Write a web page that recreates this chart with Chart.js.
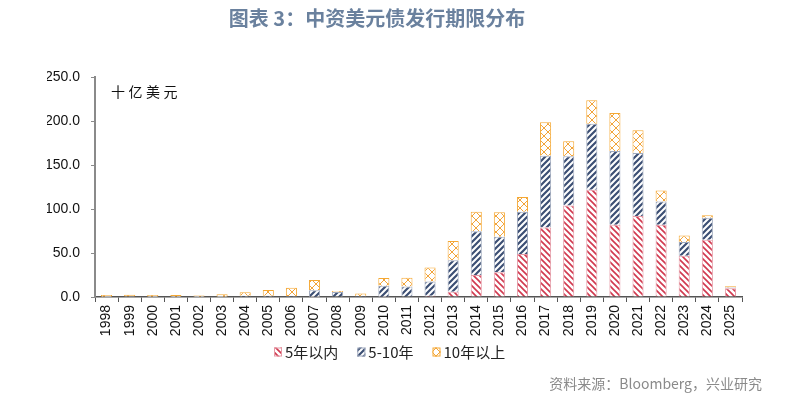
<!DOCTYPE html>
<html>
<head>
<meta charset="utf-8">
<script src="https://cdn.jsdelivr.net/npm/chart.js@4.4.1/dist/chart.umd.min.js"></script>
<style>
  body { margin: 0; background: #fff; }
  canvas { display: block; }
</style>
</head>
<body>
<canvas id="chart" width="802" height="399"></canvas>
<script>
/* ================= DATA ================= */
const years = [
  "1998", "1999", "2000", "2001", "2002", "2003", "2004", "2005", "2006", "2007",
  "2008", "2009", "2010", "2011", "2012", "2013", "2014", "2015", "2016", "2017",
  "2018", "2019", "2020", "2021", "2022", "2023", "2024", "2025"
];
const seriesNames = ["5年以内", "5-10年", "10年以上"];

const within5 = [
  0, 0, 0, 0, 0, 0, 0, 0, 0, 0.3,
  0, 0, 0.3, 0.5, 1.5, 6, 25, 28, 49, 79,
  104, 122, 82, 92, 82, 47, 65, 10
];
const from5to10 = [
  0.3, 0.5, 0.3, 0.2, 0.2, 0.3, 1.5, 1.5, 1, 7.5,
  5.7, 1, 12.5, 11.5, 16, 35.7, 49.6, 40.6, 48, 81.4,
  56, 75, 84, 71.6, 26.5, 15.6, 25, 0.7
];
const over10 = [
  2, 2, 2, 2, 1.6, 2.7, 4, 6.5, 9.5, 11.5,
  1, 3, 8.7, 10, 16, 22, 22.3, 27.6, 16.6, 38.3,
  17, 26.5, 43, 26, 12.5, 7.2, 3, 1.5
];
const yTicks = [0, 50, 100, 150, 200, 250];

const titleText = "图表 3：中资美元债发行期限分布";
const unitText = "十亿美元";
const sourceText = "资料来源：Bloomberg，兴业研究";

/* ================= PATTERNS ================= */
function makePattern(size, color, width, draw) {
  const c = document.createElement("canvas");
  c.width = size;
  c.height = size;
  const g = c.getContext("2d");
  g.fillStyle = "#fff";
  g.fillRect(0, 0, size, size);
  g.strokeStyle = color;
  g.lineWidth = width;
  g.beginPath();
  draw(g, size);
  g.stroke();
  return g.createPattern(c, "repeat");
}

const ctx = document.getElementById("chart").getContext("2d");

// "\" stripes
const redFill = makePattern(6, "#d1394f", 1.6, (g, s) => {
  g.moveTo(-1, -1); g.lineTo(s + 1, s + 1);
  g.moveTo(-1, s - 1); g.lineTo(1, s + 1);
  g.moveTo(s - 1, -1); g.lineTo(s + 1, 1);
});
// "/" stripes
const blueFill = makePattern(6, "#3c4f74", 2.2, (g, s) => {
  g.moveTo(-1, s + 1); g.lineTo(s + 1, -1);
  g.moveTo(-1, 1); g.lineTo(1, -1);
  g.moveTo(s - 1, s + 1); g.lineTo(s + 1, s - 1);
});
// cross hatch
const orangeFill = makePattern(8, "#f2a43a", 1, (g, s) => {
  g.moveTo(0, 0); g.lineTo(s, s);
  g.moveTo(0, s); g.lineTo(s, 0);
});

/* ================= TEXT + LEGEND PLUGIN ================= */
const textPlugin = {
  id: "texts",
  afterDraw(chart) {
    const c = chart.ctx;
    const area = chart.chartArea;
    c.save();

    // title
    c.fillStyle = "#6a819e";
    c.font = "bold 20px 'Noto Sans CJK SC'";
    c.textAlign = "center";
    c.textBaseline = "middle";
    c.fillText(titleText, 377, 18);

    // unit
    c.fillStyle = "#111";
    c.font = "14px 'Noto Sans CJK SC'";
    c.textAlign = "left";
    [...unitText].forEach((ch, i) => {
      c.fillText(ch, area.left + 16 + i * 17.5, 92);
    });

    // legend
    c.font = "15px 'Noto Sans CJK SC'";
    let x = 274;
    chart.data.datasets.forEach(ds => {
      c.fillStyle = ds.backgroundColor;
      c.fillRect(x, 347.5, 8, 9);
      c.strokeStyle = ds.borderColor;
      c.lineWidth = 1;
      c.strokeRect(x + 0.5, 348, 7, 8);
      c.fillStyle = "#222";
      c.fillText(ds.label, x + 11, 352);
      x += 11 + c.measureText(ds.label).width + 19;
    });

    // source
    c.fillStyle = "#8a8a8a";
    c.font = "14px 'Noto Sans CJK SC'";
    c.textAlign = "right";
    c.fillText(sourceText, 762, 384);

    c.restore();
  }
};

/* ================= CHART ================= */
new Chart(ctx, {
  type: "bar",
  data: {
    labels: years,
    datasets: [
      {
        label: seriesNames[0],
        data: within5,
        backgroundColor: redFill,
        borderColor: "#e59aa6",
        borderWidth: 1
      },
      {
        label: seriesNames[1],
        data: from5to10,
        backgroundColor: blueFill,
        borderColor: "#9fa9bd",
        borderWidth: 1
      },
      {
        label: seriesNames[2],
        data: over10,
        backgroundColor: orangeFill,
        borderColor: "#f5a833",
        borderWidth: 1
      }
    ]
  },
  plugins: [textPlugin],
  options: {
    responsive: false,
    animation: false,
    categoryPercentage: 1,
    barPercentage: 0.48,
    layout: { padding: { left: 47, right: 47, top: 77, bottom: 52 } },
    plugins: {
      title: { display: false },
      tooltip: { enabled: false },
      legend: { display: false }
    },
    scales: {
      x: {
        stacked: true,
        border: { color: "#555", width: 1.5 },
        grid: {
          drawOnChartArea: false,
          drawTicks: true,
          tickLength: 5,
          color: "#555"
        },
        ticks: {
          minRotation: 90,
          maxRotation: 90,
          autoSkip: false,
          padding: 3,
          color: "#111",
          font: { family: "'Liberation Sans'", size: 14 }
        },
        afterFit(s) { s.height = 50; }
      },
      y: {
        stacked: true,
        min: 0,
        max: 250,
        afterBuildTicks(s) { s.ticks = yTicks.map(v => ({ value: v })); },
        border: { color: "#8a8a8a", width: 2 },
        grid: {
          drawOnChartArea: false,
          drawTicks: true,
          tickLength: 4,
          color: "#8a8a8a"
        },
        ticks: {
          padding: 11,
          color: "#111",
          font: { family: "'Liberation Sans'", size: 14 },
          callback: v => Number(v).toFixed(1)
        },
        afterFit(s) { s.width = 48; }
      },
      y2: {
        position: "right",
        display: true,
        grid: { display: false, drawTicks: false },
        border: { display: false },
        ticks: { display: false },
        afterFit(s) { s.width = 13; }
      }
    }
  }
});
</script>
</body>
</html>
